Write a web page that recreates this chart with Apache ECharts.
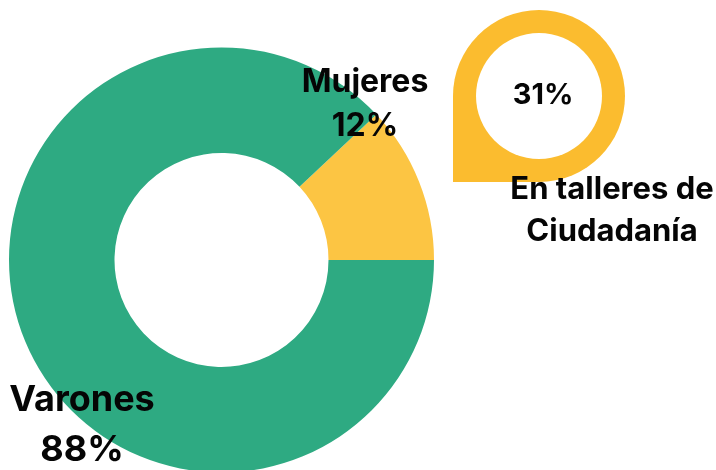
<!DOCTYPE html>
<html>
<head>
<meta charset="utf-8">
<style>
  html, body { margin: 0; padding: 0; background: #fff; }
  #main { width: 716px; height: 470px; }
</style>
<script src="https://cdn.jsdelivr.net/npm/echarts@6/dist/echarts.min.js"></script>
</head>
<body>
<div id="main"></div>
<script>
// datos
const categories = ['Mujeres', 'Varones'];
const values = [12, 88];
const colors = ['#fcc543', '#2eaa82'];
const talleresValue = 31;
const talleresLabel = ['En talleres de', 'Ciudadanía'];

const fontName = 'Inter, "Liberation Sans", sans-serif';
const myChart = echarts.init(document.getElementById('main'));

// posicion de cada etiqueta
const labelStyles = [
  { x: 365, y: 104, fontSize: 32, lineHeight: 44 },
  { x: 82, y: 425, fontSize: 36, lineHeight: 50 }
];

myChart.setOption({
  animation: false,
  series: [{
    type: 'pie',
    center: [221.5, 260],
    radius: [107, 212.5],
    startAngle: 43.2,
    clockwise: true,
    silent: true,
    avoidLabelOverlap: false,
    labelLine: { show: false },
    labelLayout: (params) => ({
      x: labelStyles[params.dataIndex].x,
      y: labelStyles[params.dataIndex].y,
      align: 'center',
      verticalAlign: 'middle',
      hideOverlap: false
    }),
    data: categories.map((name, i) => ({
      name,
      value: values[i],
      itemStyle: { color: colors[i] },
      label: {
        show: true,
        formatter: '{b}\n{c}%',
        color: '#050505',
        fontFamily: fontName,
        fontWeight: 700,
        fontSize: labelStyles[i].fontSize,
        lineHeight: labelStyles[i].lineHeight
      }
    }))
  }],
  graphic: [
    // gota: circulo + esquina + hueco blanco
    { type: 'circle', z: 1, shape: { cx: 539, cy: 96, r: 86 }, style: { fill: '#fbbc2f' } },
    { type: 'rect', z: 1, shape: { x: 453, y: 96, width: 86, height: 86 }, style: { fill: '#fbbc2f' } },
    { type: 'circle', z: 2, shape: { cx: 539, cy: 96, r: 63 }, style: { fill: '#fff' } },
    { type: 'text', z: 3, x: 543, y: 95, style: {
      text: talleresValue + '%', fill: '#050505', font: '700 29px ' + fontName,
      textAlign: 'center', textVerticalAlign: 'middle'
    } },
    { type: 'text', z: 3, x: 612, y: 211, style: {
      text: talleresLabel.join('\n'), fill: '#050505', font: '700 31px ' + fontName,
      lineHeight: 42, textAlign: 'center', textVerticalAlign: 'middle'
    } }
  ]
});
</script>
</body>
</html>
